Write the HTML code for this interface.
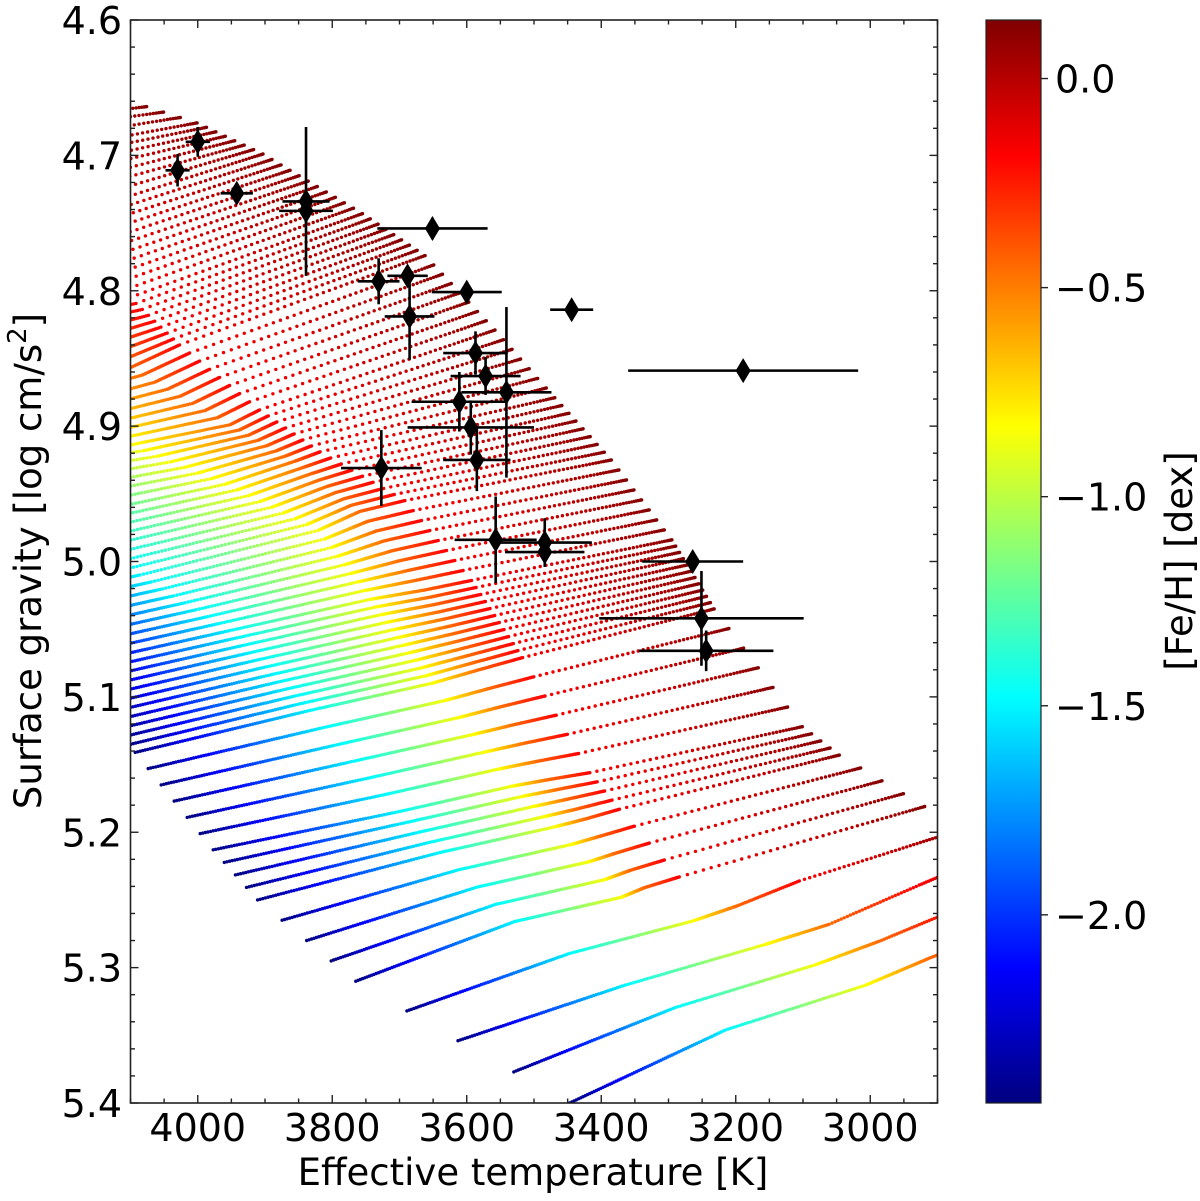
<!DOCTYPE html>
<html><head><meta charset="utf-8"><style>
html,body{margin:0;padding:0;background:#fff;}
svg{display:block;font-family:"DejaVu Sans","Liberation Sans",sans-serif;}
</style></head><body>
<svg id="chart" width="1200" height="1201" viewBox="0 0 1200 1201" xmlns="http://www.w3.org/2000/svg">
<defs>
<clipPath id="plotclip"><rect x="130.5" y="20" width="807" height="1083"/></clipPath>
<linearGradient id="jetgrad" x1="0" y1="1" x2="0" y2="0"></linearGradient>
</defs>
<rect x="0" y="0" width="1200" height="1201" fill="#fff"/>
<g id="models" clip-path="url(#plotclip)"></g>
<g id="obs"></g>
<g id="axes"></g>
<g id="cbar"></g>
<text x="533" y="1185" font-size="37" text-anchor="middle" fill="#000">Effective temperature [K]</text>
<text transform="translate(41,561) rotate(-90)" font-size="37" text-anchor="middle" fill="#000">Surface gravity [log cm/s<tspan baseline-shift="super" font-size="26">2</tspan>]</text>
<text transform="translate(1192,561) rotate(-90)" font-size="37" text-anchor="middle" fill="#000">[Fe/H] [dex]</text>
</svg>
<script>
// ---- model grid data: anchor tracks (constant mass), nodes at metallicity levels ----
const zLevels = [-2.45, -1.5, -0.85, -0.45, -0.18, 0.14];
const nodeTeff = [
  [3447, 3215, 3007, 2912, 2823, 2719],
  [3613, 3365, 3157, 3061, 2927, 2823],
  [3765, 3529, 3370, 3336, 3284, 2919],
  [3911, 3640, 3469, 3422, 3373, 3046],
  [3977, 3703, 3533, 3477, 3417, 3101],
  [4093, 3833, 3652, 3582, 3517, 3232],
  [4205, 3952, 3744, 3662, 3593, 3295],
  [4324, 4086, 3821, 3759, 3692, 3385],
  [4443, 4205, 3960, 3856, 3818, 3469],
  [4591, 4353, 4101, 3952, 3908, 3558],
  [4740, 4517, 4235, 4101, 4027, 3662],
  [4888, 4666, 4383, 4205, 4101, 3755],
  [5037, 4814, 4517, 4339, 4235, 3903],
  [5186, 4963, 4666, 4487, 4383, 4001],
  [5334, 5111, 4814, 4636, 4532, 4101]
];
const nodeLogg = [
  [5.400, 5.346, 5.313, 5.293, 5.276, 5.254],
  [5.354, 5.313, 5.283, 5.268, 5.239, 5.217],
  [5.310, 5.266, 5.248, 5.241, 5.233, 5.181],
  [5.250, 5.215, 5.196, 5.190, 5.183, 5.143],
  [5.213, 5.185, 5.166, 5.161, 5.156, 5.122],
  [5.141, 5.110, 5.090, 5.080, 5.071, 5.035],
  [5.079, 5.051, 5.028, 5.021, 5.014, 4.984],
  [5.036, 5.010, 4.977, 4.963, 4.955, 4.925],
  [4.984, 4.969, 4.943, 4.926, 4.919, 4.879],
  [4.954, 4.932, 4.914, 4.899, 4.888, 4.829],
  [4.932, 4.903, 4.877, 4.857, 4.840, 4.774],
  [4.903, 4.873, 4.836, 4.814, 4.805, 4.743],
  [4.881, 4.844, 4.799, 4.770, 4.751, 4.699],
  [4.866, 4.822, 4.770, 4.733, 4.711, 4.676],
  [4.851, 4.807, 4.748, 4.704, 4.681, 4.660]
];
const tracksBetween = [2, 2, 4, 4, 6, 11, 8, 8, 7, 8, 8, 11, 7, 4];
const segDots = [70, 50, 40, 30, 45];

// ---- observed stars ----
const starTeff    = [4030, 4000, 3942, 3839, 3839, 3651, 3731, 3688, 3685, 3600, 3444, 3189, 3587, 3572, 3541, 3611, 3594, 3585, 3727, 3557, 3484, 3484, 3264, 3251, 3244];
const starLogg    = [4.711, 4.690, 4.728, 4.734, 4.741, 4.754, 4.793, 4.789, 4.819, 4.801, 4.814, 4.859, 4.846, 4.863, 4.875, 4.882, 4.901, 4.925, 4.931, 4.984, 4.986, 4.993, 5.000, 5.042, 5.066];
const starTeffErr = [18, 18, 24, 35, 40, 82, 31, 30, 37, 52, 32, 171, 48, 52, 67, 71, 94, 50, 60, 61, 70, 59, 75, 152, 100];
const starLoggErr = [0.012, 0.011, 0.007, 0.055, 0.010, 0.008, 0.017, 0.007, 0.032, 0.007, 0.007, 0.007, 0.016, 0.014, 0.063, 0.022, 0.020, 0.023, 0.028, 0.032, 0.018, 0.008, 0.007, 0.035, 0.015];

// ---- axes ticks ----
const xTickValues = [4000, 3800, 3600, 3400, 3200, 3000];
const xTickLabels = ["4000", "3800", "3600", "3400", "3200", "3000"];
const yTickValues = [4.6, 4.7, 4.8, 4.9, 5.0, 5.1, 5.2, 5.3, 5.4];
const yTickLabels = ["4.6", "4.7", "4.8", "4.9", "5.0", "5.1", "5.2", "5.3", "5.4"];
const cbTickValues = [0.0, -0.5, -1.0, -1.5, -2.0];
const cbTickLabels = ["0.0", "\u22120.5", "\u22121.0", "\u22121.5", "\u22122.0"];

const NS = "http://www.w3.org/2000/svg";
const X0 = 130.5, X1 = 937.5, Y0 = 20, Y1 = 1103;
const T0 = 4100, T1 = 2900, G0 = 4.6, G1 = 5.4;
const zMin = -2.45, zMax = 0.14;
const CBX0 = 986, CBX1 = 1041;
function xScale(t){ return X0 + (T0 - t) / (T0 - T1) * (X1 - X0); }
function yScale(g){ return Y0 + (g - G0) / (G1 - G0) * (Y1 - Y0); }
function cbScale(z){ return Y1 - (z - zMin) / (zMax - zMin) * (Y1 - Y0); }
function clamp(v){ return Math.max(0, Math.min(1, v)); }
function jet(t){
  const r = clamp(1.5 - Math.abs(4*t - 3)), g = clamp(1.5 - Math.abs(4*t - 2)), b = clamp(1.5 - Math.abs(4*t - 1));
  return "rgb(" + Math.round(r*255) + "," + Math.round(g*255) + "," + Math.round(b*255) + ")";
}
function mk(tag, attrs, parent){
  const e = document.createElementNS(NS, tag);
  for (const k in attrs) e.setAttribute(k, attrs[k]);
  parent.appendChild(e);
  return e;
}

// build list of tracks
const models = document.getElementById("models");
const trackList = [];
for (let a = 0; a < tracksBetween.length; a++) {
  const n = tracksBetween[a];
  for (let j = 0; j < n; j++) {
    const f = j / n;
    const tt = [], gg = [];
    for (let k = 0; k < zLevels.length; k++) {
      tt.push(nodeTeff[a][k] + (nodeTeff[a+1][k] - nodeTeff[a][k]) * f);
      gg.push(nodeLogg[a][k] + (nodeLogg[a+1][k] - nodeLogg[a][k]) * f);
    }
    trackList.push([tt, gg]);
  }
}
trackList.push([nodeTeff[nodeTeff.length-1], nodeLogg[nodeLogg.length-1]]);

const lastSeg = zLevels.length - 2;
for (const tr of trackList) {
  const g = document.createElementNS(NS, "g");
  
  
  models.appendChild(g);
  for (let k = 0; k < zLevels.length - 1; k++) {
    const nd = segDots[k];
    for (let s = 0; s < nd + (k === lastSeg ? 1 : 0); s++) {
      const t = s / nd;
      const z = zLevels[k] + (zLevels[k+1] - zLevels[k]) * t;
      const p = (k === lastSeg) ? 1 - Math.pow(1 - t, 1.5) : t;
      const te = tr[0][k] + (tr[0][k+1] - tr[0][k]) * p;
      const lg = tr[1][k] + (tr[1][k+1] - tr[1][k]) * p;
      const cx = xScale(te), cy = yScale(lg);
      if (cx < X0 - 3 || cx > X1 + 3 || cy < Y0 - 3 || cy > Y1 + 3) continue;
      const c = document.createElementNS(NS, "circle");
      
      
      c.setAttribute("cx", cx.toFixed(1));
      c.setAttribute("cy", cy.toFixed(1));
      c.setAttribute("r", "1.7");
      c.setAttribute("fill", jet((z - zMin) / (zMax - zMin)));
      g.appendChild(c);
    }
  }
}

// observed stars
const obs = document.getElementById("obs");
for (let i = 0; i < starTeff.length; i++) {
  const cx = xScale(starTeff[i]), cy = yScale(starLogg[i]);
  const xl = xScale(starTeff[i] + starTeffErr[i]), xr = xScale(starTeff[i] - starTeffErr[i]);
  const yt = yScale(starLogg[i] - starLoggErr[i]), yb = yScale(starLogg[i] + starLoggErr[i]);
  const eh = mk("line", {x1: xl, y1: cy, x2: xr, y2: cy, stroke: "#000", "stroke-width": 2.6}, obs);
  
  
  const ev = mk("line", {x1: cx, y1: yt, x2: cx, y2: yb, stroke: "#000", "stroke-width": 2.6}, obs);
  
  
  const d = "M" + cx + "," + (cy - 12.5) + " L" + (cx + 7.5) + "," + cy + " L" + cx + "," + (cy + 12.5) + " L" + (cx - 7.5) + "," + cy + " Z";
  const m = mk("path", {d: d, fill: "#000"}, obs);
  
  
}

// axes
const axes = document.getElementById("axes");
const frame = mk("rect", {x: X0, y: Y0, width: X1 - X0, height: Y1 - Y0, fill: "none", stroke: "#222", "stroke-width": 1.6}, axes);


for (let t = 4100; t >= 2900; t -= 50) {
  const x = xScale(t);
  const major = (t % 200 === 0);
  const L = major ? 8 : 4.5;
  const tb = mk("line", {x1: x, y1: Y1, x2: x, y2: Y1 - L, stroke: "#222", "stroke-width": 1.4}, axes);
  
  
  const tt = mk("line", {x1: x, y1: Y0, x2: x, y2: Y0 + L, stroke: "#222", "stroke-width": 1.4}, axes);
  
  
}
for (let i = 0; i < xTickValues.length; i++) {
  const tx = mk("text", {x: xScale(xTickValues[i]), y: 1141, "font-size": 38, "text-anchor": "middle", fill: "#000"}, axes);
  
  
  tx.textContent = xTickLabels[i];
}
for (let s = 0; s <= 40; s++) {
  const gv = 4.6 + s * 0.02;
  const y = yScale(gv);
  const major = (s % 5 === 0);
  const L = major ? 8 : 4.5;
  const tl = mk("line", {x1: X0, y1: y, x2: X0 + L, y2: y, stroke: "#222", "stroke-width": 1.4}, axes);
  
  
  const tr = mk("line", {x1: X1, y1: y, x2: X1 - L, y2: y, stroke: "#222", "stroke-width": 1.4}, axes);
  
  
}
for (let i = 0; i < yTickValues.length; i++) {
  const ty = mk("text", {x: 122, y: yScale(yTickValues[i]) + 14, "font-size": 38, "text-anchor": "end", fill: "#000"}, axes);
  
  
  ty.textContent = yTickLabels[i];
}

// colorbar
const grad = document.getElementById("jetgrad");
for (let s = 0; s <= 32; s++) {
  mk("stop", {offset: (s / 32).toFixed(4), "stop-color": jet(s / 32)}, grad);
}
const cb = document.getElementById("cbar");
const cbr = mk("rect", {x: CBX0, y: Y0, width: CBX1 - CBX0, height: Y1 - Y0, fill: "url(#jetgrad)", stroke: "#222", "stroke-width": 1.2}, cb);


for (let i = 0; i < cbTickValues.length; i++) {
  const y = cbScale(cbTickValues[i]);
  const tk = mk("line", {x1: CBX1, y1: y, x2: CBX1 + 7, y2: y, stroke: "#222", "stroke-width": 1.4}, cb);
  
  
  const lb = mk("text", {x: 1055, y: y + 14, "font-size": 38, fill: "#000"}, cb);
  
  
  lb.textContent = cbTickLabels[i];
}
</script>
</body></html>
